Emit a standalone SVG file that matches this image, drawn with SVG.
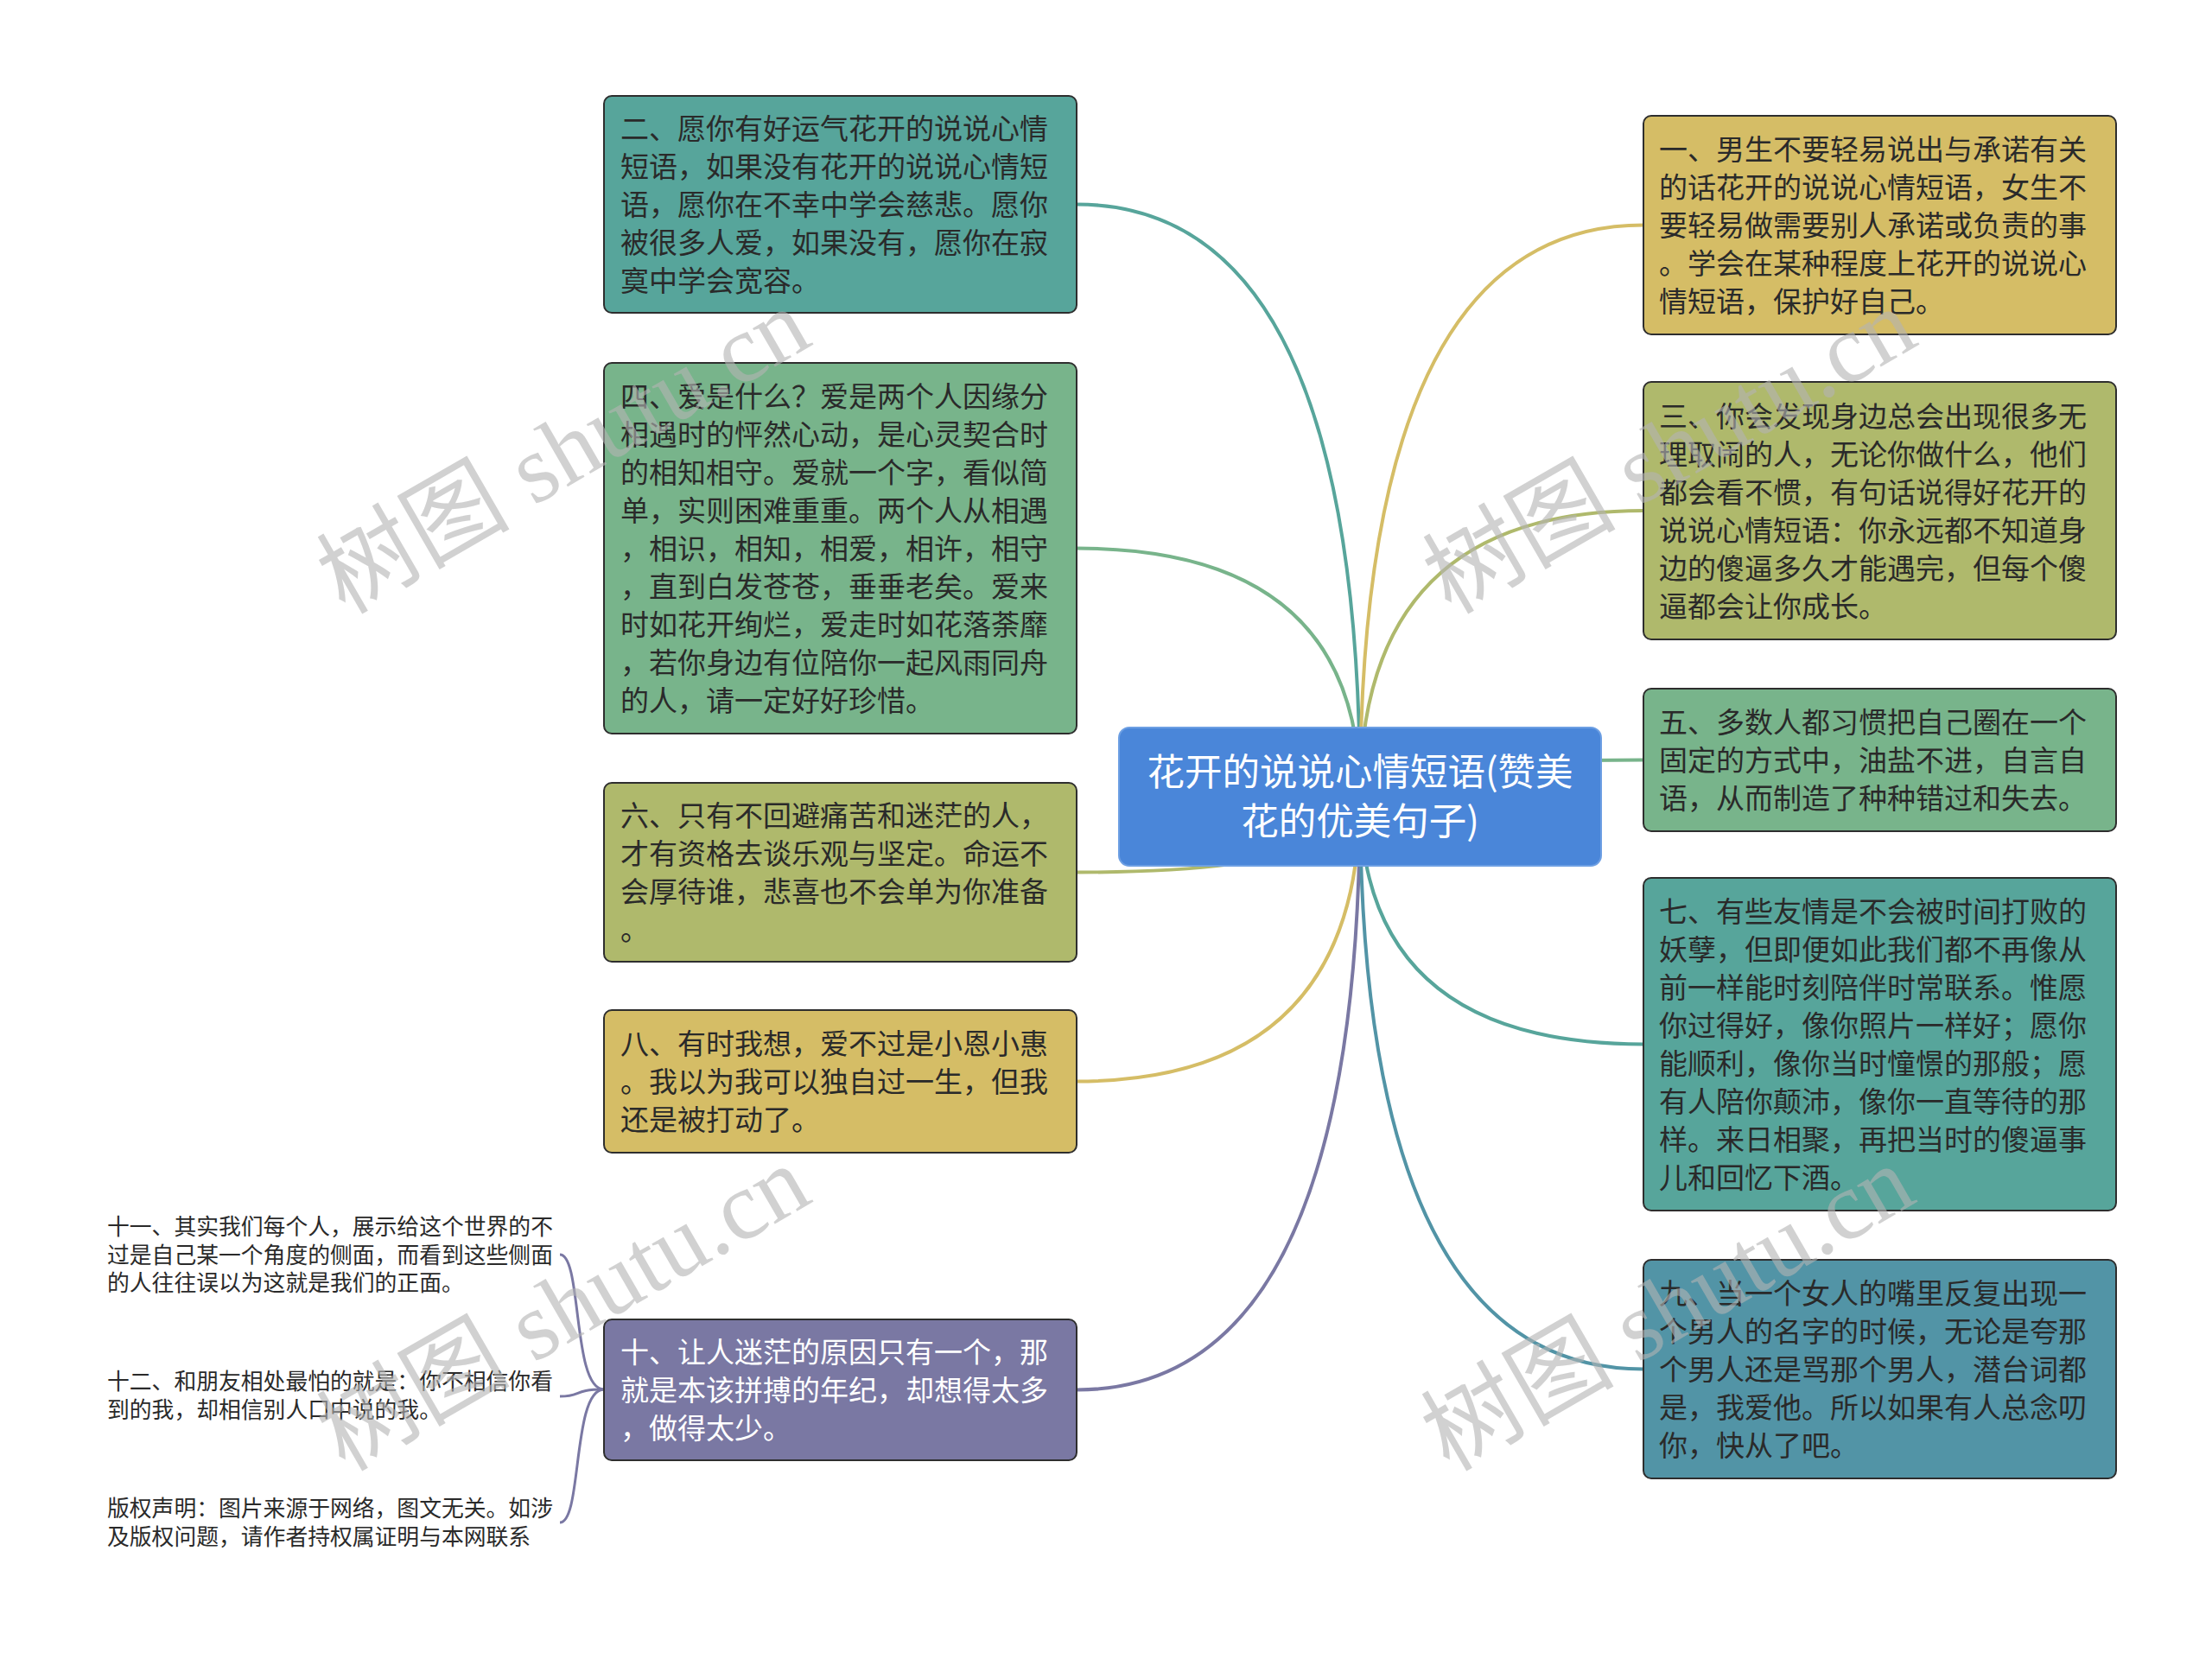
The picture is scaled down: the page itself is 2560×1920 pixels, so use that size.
<svg xmlns="http://www.w3.org/2000/svg" width="2560" height="1920" viewBox="0 0 2560 1920">
<style>
.bx{stroke:#2e2e2e;stroke-width:2}
.t{font-family:"Noto Sans CJK SC","Noto Sans",sans-serif;font-size:33px;fill:#2a2a2a}
.tw{fill:#ffffff}
.ct{font-family:"Noto Sans CJK SC","Noto Sans",sans-serif;font-size:43.5px;fill:#ffffff;text-anchor:middle}
.st{font-family:"Noto Sans CJK SC","Noto Sans",sans-serif;font-size:25.8px;fill:#2a2a2a}
.c{fill:none;stroke-width:4}
.wm{font-family:"Liberation Serif","Noto Sans CJK SC",serif;font-size:112px;fill:#b4b4b4;opacity:0.6;text-anchor:middle}
</style>
<rect width="2560" height="1920" fill="#ffffff"/>
<g id="connectors">
<path class="c" stroke="#57a59b" d="M1574,922 Q1574,236.5 1246,236.5"/>
<path class="c" stroke="#78b48b" d="M1574,922 Q1574,634.5 1246,634.5"/>
<path class="c" stroke="#afb96c" d="M1574,922 Q1574,1009.5 1246,1009.5"/>
<path class="c" stroke="#d5bd66" d="M1574,922 Q1574,1251.5 1246,1251.5"/>
<path class="c" stroke="#7a78a3" d="M1574,922 Q1574,1608.5 1246,1608.5"/>
<path class="c" stroke="#d5bd66" d="M1574,922 Q1574,260.5 1902,260.5"/>
<path class="c" stroke="#afb96c" d="M1574,922 Q1574,591 1902,591"/>
<path class="c" stroke="#78b48b" d="M1574,922 Q1574,879.5 1902,879.5"/>
<path class="c" stroke="#57a59b" d="M1574,922 Q1574,1208.5 1902,1208.5"/>
<path class="c" stroke="#5294a6" d="M1574,922 Q1574,1584.5 1902,1584.5"/>
<path fill="none" stroke="#7a78a3" stroke-width="3" d="M699,1608 C662,1608 674,1452 648,1452"/>
<path fill="none" stroke="#7a78a3" stroke-width="3" d="M699,1608 C662,1608 674,1616 648,1616"/>
<path fill="none" stroke="#7a78a3" stroke-width="3" d="M699,1608 C662,1608 674,1762 648,1762"/>
</g>
<g id="center">
<rect x="1295" y="842" width="558" height="160" rx="12" fill="#4a86d9" stroke="#6d9fe3" stroke-width="2"/>
<text class="ct" x="1574" y="909">花开的说说心情短语(赞美</text>
<text class="ct" x="1574" y="966">花的优美句子)</text>
</g>
<g id="n2">
<rect class="bx" x="699" y="111" width="547" height="251" rx="9" fill="#57a59b"/>
<text class="t" x="718" y="161"><tspan x="718">二、愿你有好运气花开的说说心情</tspan><tspan x="718" dy="44">短语，如果没有花开的说说心情短</tspan><tspan x="718" dy="44">语，愿你在不幸中学会慈悲。愿你</tspan><tspan x="718" dy="44">被很多人爱，如果没有，愿你在寂</tspan><tspan x="718" dy="44">寞中学会宽容。</tspan></text>
</g>
<g id="n4">
<rect class="bx" x="699" y="420" width="547" height="429" rx="9" fill="#78b48b"/>
<text class="t" x="718" y="471"><tspan x="718">四、爱是什么？爱是两个人因缘分</tspan><tspan x="718" dy="44">相遇时的怦然心动，是心灵契合时</tspan><tspan x="718" dy="44">的相知相守。爱就一个字，看似简</tspan><tspan x="718" dy="44">单，实则困难重重。两个人从相遇</tspan><tspan x="718" dy="44">，相识，相知，相爱，相许，相守</tspan><tspan x="718" dy="44">，直到白发苍苍，垂垂老矣。爱来</tspan><tspan x="718" dy="44">时如花开绚烂，爱走时如花落荼靡</tspan><tspan x="718" dy="44">，若你身边有位陪你一起风雨同舟</tspan><tspan x="718" dy="44">的人，请一定好好珍惜。</tspan></text>
</g>
<g id="n6">
<rect class="bx" x="699" y="906" width="547" height="207" rx="9" fill="#afb96c"/>
<text class="t" x="718" y="956"><tspan x="718">六、只有不回避痛苦和迷茫的人，</tspan><tspan x="718" dy="44">才有资格去谈乐观与坚定。命运不</tspan><tspan x="718" dy="44">会厚待谁，悲喜也不会单为你准备</tspan><tspan x="718" dy="44">。</tspan></text>
</g>
<g id="n8">
<rect class="bx" x="699" y="1169" width="547" height="165" rx="9" fill="#d5bd66"/>
<text class="t" x="718" y="1220"><tspan x="718">八、有时我想，爱不过是小恩小惠</tspan><tspan x="718" dy="44">。我以为我可以独自过一生，但我</tspan><tspan x="718" dy="44">还是被打动了。</tspan></text>
</g>
<g id="n10">
<rect class="bx" x="699" y="1527" width="547" height="163" rx="9" fill="#7a78a3"/>
<text class="t tw" x="718" y="1577"><tspan x="718">十、让人迷茫的原因只有一个，那</tspan><tspan x="718" dy="44">就是本该拼搏的年纪，却想得太多</tspan><tspan x="718" dy="44">，做得太少。</tspan></text>
</g>
<g id="n1">
<rect class="bx" x="1902" y="134" width="547" height="253" rx="9" fill="#d5bd66"/>
<text class="t" x="1920" y="185"><tspan x="1920">一、男生不要轻易说出与承诺有关</tspan><tspan x="1920" dy="44">的话花开的说说心情短语，女生不</tspan><tspan x="1920" dy="44">要轻易做需要别人承诺或负责的事</tspan><tspan x="1920" dy="44">。学会在某种程度上花开的说说心</tspan><tspan x="1920" dy="44">情短语，保护好自己。</tspan></text>
</g>
<g id="n3">
<rect class="bx" x="1902" y="442" width="547" height="298" rx="9" fill="#afb96c"/>
<text class="t" x="1920" y="493.5"><tspan x="1920">三、你会发现身边总会出现很多无</tspan><tspan x="1920" dy="44">理取闹的人，无论你做什么，他们</tspan><tspan x="1920" dy="44">都会看不惯，有句话说得好花开的</tspan><tspan x="1920" dy="44">说说心情短语：你永远都不知道身</tspan><tspan x="1920" dy="44">边的傻逼多久才能遇完，但每个傻</tspan><tspan x="1920" dy="44">逼都会让你成长。</tspan></text>
</g>
<g id="n5">
<rect class="bx" x="1902" y="797" width="547" height="165" rx="9" fill="#78b48b"/>
<text class="t" x="1920" y="848"><tspan x="1920">五、多数人都习惯把自己圈在一个</tspan><tspan x="1920" dy="44">固定的方式中，油盐不进，自言自</tspan><tspan x="1920" dy="44">语，从而制造了种种错过和失去。</tspan></text>
</g>
<g id="n7">
<rect class="bx" x="1902" y="1016" width="547" height="385" rx="9" fill="#57a59b"/>
<text class="t" x="1920" y="1067"><tspan x="1920">七、有些友情是不会被时间打败的</tspan><tspan x="1920" dy="44">妖孽，但即便如此我们都不再像从</tspan><tspan x="1920" dy="44">前一样能时刻陪伴时常联系。惟愿</tspan><tspan x="1920" dy="44">你过得好，像你照片一样好；愿你</tspan><tspan x="1920" dy="44">能顺利，像你当时憧憬的那般；愿</tspan><tspan x="1920" dy="44">有人陪你颠沛，像你一直等待的那</tspan><tspan x="1920" dy="44">样。来日相聚，再把当时的傻逼事</tspan><tspan x="1920" dy="44">儿和回忆下酒。</tspan></text>
</g>
<g id="n9">
<rect class="bx" x="1902" y="1458" width="547" height="253" rx="9" fill="#5294a6"/>
<text class="t" x="1920" y="1509"><tspan x="1920">九、当一个女人的嘴里反复出现一</tspan><tspan x="1920" dy="44">个男人的名字的时候，无论是夸那</tspan><tspan x="1920" dy="44">个男人还是骂那个男人，潜台词都</tspan><tspan x="1920" dy="44">是，我爱他。所以如果有人总念叨</tspan><tspan x="1920" dy="44">你，快从了吧。</tspan></text>
</g>
<g id="n11">
<text class="st" x="124" y="1429"><tspan x="124">十一、其实我们每个人，展示给这个世界的不</tspan><tspan x="124" dy="32.7">过是自己某一个角度的侧面，而看到这些侧面</tspan><tspan x="124" dy="32.7">的人往往误以为这就是我们的正面。</tspan></text>
</g>
<g id="n12">
<text class="st" x="124" y="1608"><tspan x="124">十二、和朋友相处最怕的就是：你不相信你看</tspan><tspan x="124" dy="32.7">到的我，却相信别人口中说的我。</tspan></text>
</g>
<g id="n13">
<text class="st" x="124" y="1755"><tspan x="124">版权声明：图片来源于网络，图文无关。如涉</tspan><tspan x="124" dy="32.7">及版权问题，请作者持权属证明与本网联系</tspan></text>
</g>
<g id="watermarks">
<text class="wm" transform="translate(652,522) rotate(-30)" y="38">树图 shutu.cn</text>
<text class="wm" transform="translate(1932,522) rotate(-30)" y="38">树图 shutu.cn</text>
<text class="wm" transform="translate(652,1514) rotate(-30)" y="38">树图 shutu.cn</text>
<text class="wm" transform="translate(1930,1514) rotate(-30)" y="38">树图 shutu.cn</text>
</g>
</svg>
